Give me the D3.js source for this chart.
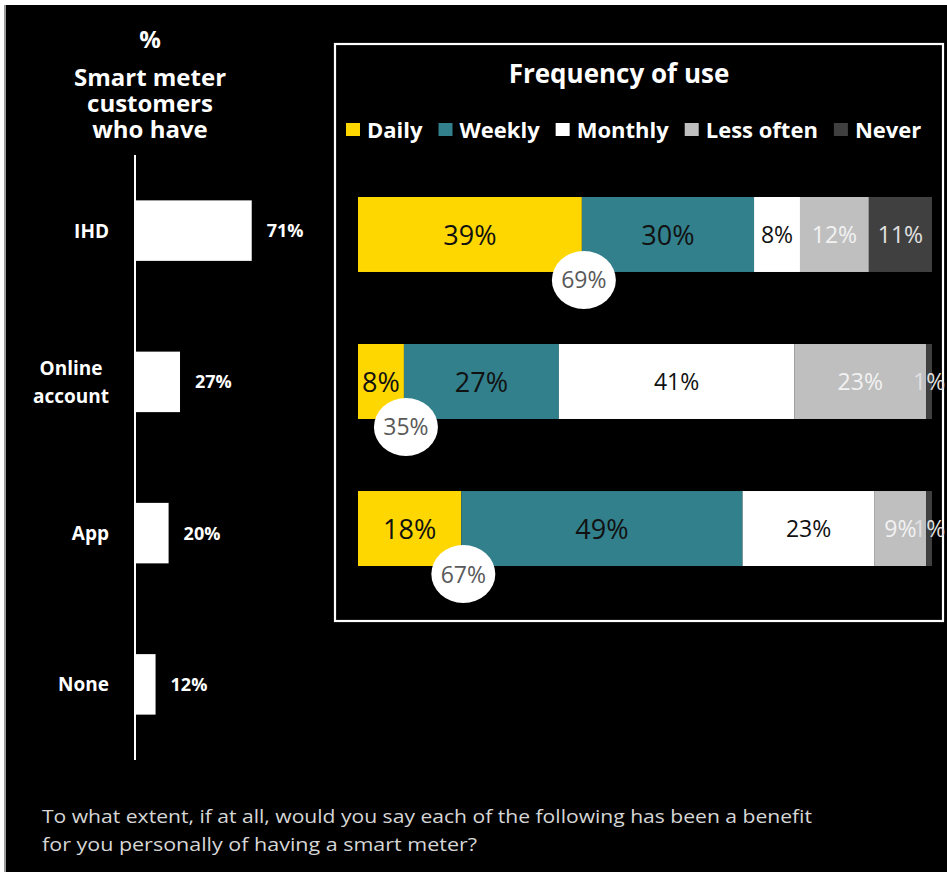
<!DOCTYPE html>
<html>
<head>
<meta charset="utf-8">
<script src="https://cdn.jsdelivr.net/npm/d3@7"></script>
<style>
  html, body { margin: 0; padding: 0; background: #ffffff; }
  svg { display: block; }
  text { font-family: "Open Sans", "DejaVu Sans", sans-serif; }
</style>
</head>
<body>
<svg id="chart" width="947" height="872"></svg>
<script>
// Share of smart meter customers who have each tool (%)
const devices = ["IHD", "Online account", "App", "None"];
const ownership = [71, 27, 20, 12];

// Frequency of use of each tool (%)
const frequencyRows = ["IHD", "Online account", "App"];
const frequencyLevels = ["Daily", "Weekly", "Monthly", "Less often", "Never"];
const daily = [39, 8, 18];
const weekly = [30, 27, 49];
const monthly = [8, 41, 23];
const lessOften = [12, 23, 9];
const never = [11, 1, 1];

const leftTitle = ["%", "Smart meter", "customers", "who have"];
const rightTitle = "Frequency of use";
const question = [
  "To what extent, if at all, would you say each of the following has been a benefit",
  "for you personally of having a smart meter?"
];

const svg = d3.select("#chart");

// page frame: black panel with a thin grey rule on the left
svg.append("rect").attr("x", 6).attr("y", 5).attr("width", 941).attr("height", 867).attr("fill", "#000");
svg.append("rect").attr("x", 4).attr("y", 5).attr("width", 2).attr("height", 867).attr("fill", "#9a9a9a");

/* ---------- left: ownership bars ---------- */
const xL = d3.scaleLinear().domain([0, 100]).range([136, 299]);
const yL = d3.scaleBand().domain(devices).range([155, 760]).paddingInner(0.6).paddingOuter(0.3);

const lt = svg.append("text").attr("text-anchor", "middle").attr("fill", "#fff")
  .attr("font-weight", 700).attr("font-size", 24);
leftTitle.forEach((t, i) => {
  lt.append("tspan").attr("x", 150).attr("y", i === 0 ? 48 : 86 + (i - 1) * 26).text(t);
});

svg.append("g").selectAll("rect").data(devices).join("rect")
  .attr("x", xL(0))
  .attr("y", d => yL(d))
  .attr("width", (d, i) => xL(ownership[i]) - xL(0))
  .attr("height", yL.bandwidth())
  .attr("fill", "#fff");

svg.append("line").attr("x1", 135).attr("x2", 135).attr("y1", 155).attr("y2", 760)
  .attr("stroke", "#fff").attr("stroke-width", 2);

svg.append("g").selectAll("text").data(devices).join("text")
  .attr("x", (d, i) => xL(ownership[i]) + 15)
  .attr("y", d => yL(d) + yL.bandwidth() / 2 + 6.5)
  .attr("fill", "#fff").attr("font-weight", 700).attr("font-size", 18)
  .text((d, i) => ownership[i] + "%");

// category labels: wrapped lines centred on each other, block right-aligned
devices.forEach(d => {
  const lines = d.includes(" ") ? d.split(" ") : [d];
  const cy = yL(d) + yL.bandwidth() / 2;
  const t = svg.append("text").attr("fill", "#fff").attr("font-weight", 700)
    .attr("font-size", 19).attr("text-anchor", "middle");
  const spans = lines.map((ln, j) => t.append("tspan")
    .attr("y", cy + 7 + (j - (lines.length - 1) / 2) * 28).text(ln));
  const maxW = d3.max(spans, s => s.node().getComputedTextLength());
  spans.forEach(s => s.attr("x", 109 - maxW / 2));
});

/* ---------- right: frequency of use ---------- */
svg.append("rect").attr("x", 335).attr("y", 44).attr("width", 608).attr("height", 577)
  .attr("fill", "none").attr("stroke", "#fff").attr("stroke-width", 2.2);

svg.append("text").attr("x", 619).attr("y", 83).attr("text-anchor", "middle")
  .attr("fill", "#fff").attr("font-weight", 700).attr("font-size", 26).text(rightTitle);

const levelColor = d3.scaleOrdinal(frequencyLevels, ["#FFD700", "#31808C", "#FFFFFF", "#BFBFBF", "#404040"]);
const labelColor = d3.scaleOrdinal(frequencyLevels, ["#111111", "#111111", "#111111", "#F2F2F2", "#E0E0E0"]);
const labelSize = d3.scaleOrdinal(frequencyLevels, [27, 27, 23, 23, 23]);

// legend
let lx = 346;
frequencyLevels.forEach(k => {
  svg.append("rect").attr("x", lx).attr("y", 123).attr("width", 14).attr("height", 13).attr("fill", levelColor(k));
  const t = svg.append("text").attr("x", lx + 21).attr("y", 138).attr("fill", "#fff")
    .attr("font-weight", 700).attr("font-size", 22).text(k);
  lx += 21 + t.node().getComputedTextLength() + 16;
});

const table = frequencyRows.map((r, i) => ({
  row: r,
  "Daily": daily[i], "Weekly": weekly[i], "Monthly": monthly[i],
  "Less often": lessOften[i], "Never": never[i]
}));
const series = d3.stack().keys(frequencyLevels)(table);

const xR = d3.scaleLinear().domain([0, 100]).range([358, 932]);
const yR = d3.scaleBand().domain(frequencyRows).range([197, 566]).paddingInner(0.49).paddingOuter(0);

const layers = svg.append("g").selectAll("g").data(series).join("g")
  .attr("fill", s => levelColor(s.key));
layers.selectAll("rect").data(s => s).join("rect")
  .attr("x", d => xR(d[0]))
  .attr("y", d => yR(d.data.row))
  .attr("width", d => xR(d[1]) - xR(d[0]))
  .attr("height", yR.bandwidth());

const labels = svg.append("g").selectAll("g").data(series).join("g")
  .attr("fill", s => labelColor(s.key))
  .attr("font-size", s => labelSize(s.key))
  .attr("text-anchor", "middle");
labels.selectAll("text").data(s => s.map(d => ({ d, key: s.key }))).join("text")
  .attr("x", o => (xR(o.d[0]) + xR(o.d[1])) / 2)
  .attr("y", o => yR(o.d.data.row) + yR.bandwidth() / 2 + labelSize(o.key) * 0.38)
  .text(o => (o.d[1] - o.d[0]) + "%");

// bubbles: share using the tool at least weekly (daily + weekly)
const bubbles = svg.append("g").selectAll("g").data(frequencyRows).join("g")
  .attr("transform", (r, i) => `translate(${xR(daily[i]) + 2},${yR(r) + yR.bandwidth() + 8})`);
bubbles.append("ellipse").attr("rx", 32).attr("ry", 29).attr("fill", "#fff");
bubbles.append("text").attr("text-anchor", "middle").attr("y", 8.5)
  .attr("fill", "#595959").attr("font-size", 23)
  .text((r, i) => (daily[i] + weekly[i]) + "%");

/* ---------- question text ---------- */
const qWidths = [770, 435];
question.forEach((q, i) => {
  svg.append("text").attr("x", 42).attr("y", 823 + i * 28)
    .attr("fill", "#d6d6d6").attr("font-size", 18)
    .attr("textLength", qWidths[i]).attr("lengthAdjust", "spacingAndGlyphs")
    .text(q);
});
</script>
</body>
</html>
